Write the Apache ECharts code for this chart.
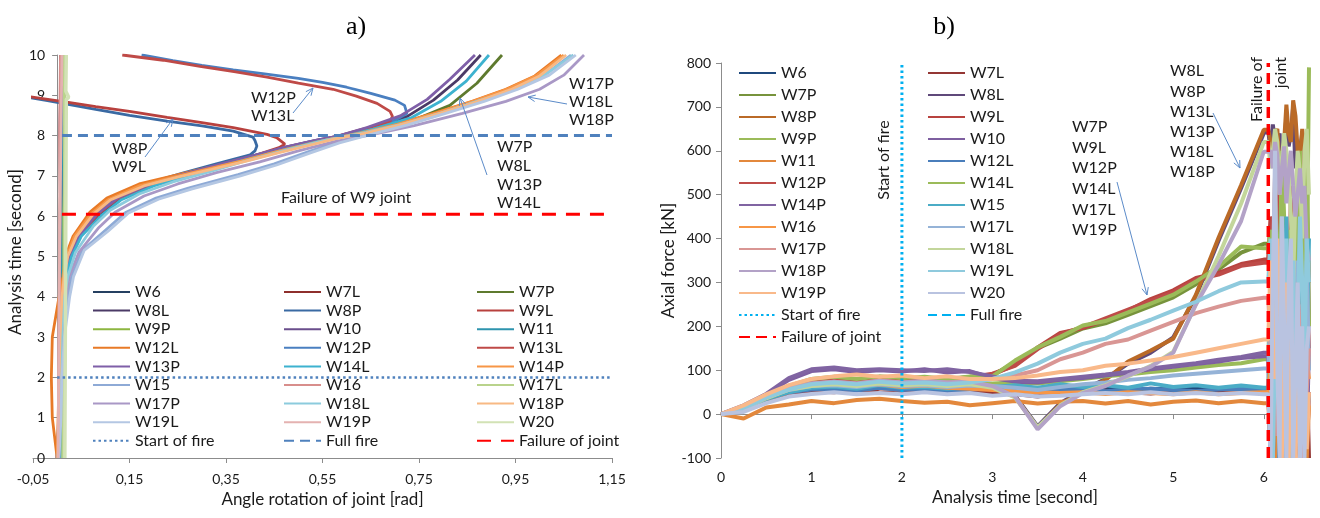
<!DOCTYPE html>
<html><head><meta charset="utf-8">
<script src="https://cdn.jsdelivr.net/npm/echarts@6/dist/echarts.min.js"></script>
<style>html,body{margin:0;padding:0;background:#fff}#c{width:1320px;height:518px}</style>
</head><body><div id="c"></div>
<script>
// ---------------- DATA ----------------
const NAMES_LEFT = ['W6','W7L','W7P','W8L','W8P','W9L','W9P','W10','W11','W12L','W12P','W13L','W13P','W14L','W14P','W15','W16','W17L','W17P','W18L','W18P','W19L','W19P','W20'];
const NAMES_RIGHT = ['W6','W7L','W7P','W8L','W8P','W9L','W9P','W10','W11','W12L','W12P','W14L','W14P','W15','W16','W17L','W17P','W18L','W18P','W19L','W19P','W20'];
const X_TICKS_LEFT = [-0.05, 0.15, 0.35, 0.55, 0.75, 0.95, 1.15];

// Panel a): [angle rotation (rad), analysis time (s)]
const L_W6  = [[0.004,0],[0.006,2],[0.005,4],[0.007,6],[0.006,8],[0.008,10]];
const L_W7L = [[0.006,0],[0.007,2],[0.008,4],[0.006,6],[0.009,8],[0.007,10]];
const L_W9P = [[0.01,0],[0.011,1],[0.012,3],[0.012,5],[0.013,7],[0.012,9],[0.013,10]];
const L_W10 = [[0.005,0],[0.006,3],[0.007,6],[0.012,7.5],[0.006,8],[0.008,10]];
const L_W11 = [[0.008,0],[0.009,3],[0.008,6],[0.01,8],[0.009,10]];
const L_W16 = [[0.003,0],[0.004,3],[0.006,6],[0.005,8],[0.007,10]];
const L_W17L = [[0.012,0],[0.014,2],[0.015,5],[0.016,8],[0.015,10]];
const L_W19P = [[0.002,0],[0.004,4],[0.007,7],[0.009,9],[0.01,10]];
const L_W20 = [[0.016,0],[0.017,3],[0.018,6],[0.019,8.9],[0.024,8.95],[0.018,9.1],[0.019,10]];
const L_W12L = [[0,0],[-0.01,1],[-0.012,2],[-0.01,3],[0.004,4],[0.012,4.5],[0.017,5],[0.033,5.5],[0.068,6.1],[0.103,6.45],[0.17,6.8],[0.24,7.0],[0.31,7.2],[0.38,7.38],[0.45,7.58],[0.52,7.78],[0.57,7.93],[0.63,8.08],[0.70,8.28],[0.78,8.55],[0.86,8.85],[0.93,9.15],[0.99,9.48],[1.045,10]];
const L_W14P = [[0,0],[0.002,1],[0.004,2],[0.006,3],[0.008,4],[0.013,4.5],[0.02,5],[0.036,5.5],[0.07,6.05],[0.105,6.4],[0.172,6.76],[0.245,6.98],[0.315,7.18],[0.385,7.38],[0.455,7.6],[0.525,7.8],[0.575,7.94],[0.635,8.08],[0.705,8.28],[0.785,8.56],[0.865,8.86],[0.935,9.16],[0.995,9.5],[1.05,10]];
const L_W18P = [[0.002,0],[0.003,1],[0.004,2],[0.006,3],[0.01,4],[0.015,4.5],[0.022,5],[0.04,5.5],[0.075,6.05],[0.11,6.4],[0.18,6.75],[0.25,6.97],[0.32,7.16],[0.39,7.36],[0.46,7.58],[0.53,7.78],[0.58,7.93],[0.64,8.06],[0.71,8.26],[0.79,8.54],[0.87,8.84],[0.94,9.14],[1.0,9.48],[1.055,10]];
const L_W13P = [[0,0],[0.004,1],[0.005,2],[0.006,3],[0.01,4],[0.016,4.5],[0.026,5],[0.045,5.5],[0.082,6.05],[0.125,6.45],[0.195,6.8],[0.265,7.05],[0.335,7.28],[0.405,7.5],[0.475,7.72],[0.535,7.88],[0.58,7.98],[0.642,8.2],[0.711,8.49],[0.767,8.9],[0.814,9.4],[0.866,10]];
const L_W8L = [[0.001,0],[0.005,1],[0.006,2],[0.007,3],[0.011,4],[0.017,4.5],[0.028,5],[0.048,5.5],[0.085,6.02],[0.128,6.42],[0.198,6.78],[0.268,7.03],[0.338,7.26],[0.408,7.48],[0.478,7.7],[0.538,7.86],[0.585,7.97],[0.65,8.18],[0.725,8.47],[0.78,8.88],[0.83,9.38],[0.878,10]];
const L_W14L = [[0.002,0],[0.005,1],[0.006,2],[0.008,3],[0.012,4],[0.018,4.5],[0.03,5],[0.05,5.5],[0.09,6.0],[0.132,6.4],[0.2,6.75],[0.27,7.0],[0.34,7.24],[0.41,7.46],[0.48,7.68],[0.54,7.85],[0.59,7.96],[0.655,8.16],[0.735,8.45],[0.795,8.85],[0.848,9.35],[0.895,10]];
const L_W7P = [[0.002,0],[0.004,1],[0.006,2],[0.007,3],[0.011,4],[0.017,4.5],[0.027,5],[0.047,5.5],[0.086,6.05],[0.128,6.44],[0.198,6.8],[0.268,7.04],[0.338,7.27],[0.408,7.49],[0.478,7.71],[0.538,7.87],[0.585,7.96],[0.66,8.12],[0.711,8.25],[0.752,8.45],[0.814,8.75],[0.870,9.3],[0.922,10]];
const L_W8P = [[0,0],[0.003,1],[0.005,2],[0.006,3],[0.01,4],[0.015,4.5],[0.025,5],[0.044,5.5],[0.08,6.05],[0.122,6.46],[0.19,6.82],[0.26,7.07],[0.33,7.3],[0.40,7.52],[0.41,7.62],[0.414,7.74],[0.41,7.88],[0.406,7.96],[0.365,8.11],[0.30,8.24],[0.228,8.36],[0.15,8.5],[0.08,8.65],[0.02,8.78],[-0.02,8.87],[-0.06,8.95]];
const L_W9L = [[0.001,0],[0.004,1],[0.006,2],[0.007,3],[0.011,4],[0.016,4.5],[0.027,5],[0.046,5.5],[0.083,6.04],[0.126,6.44],[0.196,6.79],[0.266,7.04],[0.336,7.27],[0.406,7.49],[0.46,7.7],[0.472,7.79],[0.455,7.95],[0.435,8.03],[0.365,8.2],[0.30,8.32],[0.228,8.45],[0.15,8.6],[0.08,8.72],[0.02,8.83],[-0.03,8.92],[-0.06,8.97]];
const L_W12P = [[0,0],[0.004,1],[0.005,2],[0.006,3],[0.01,4],[0.016,4.5],[0.026,5],[0.045,5.5],[0.083,6.05],[0.126,6.45],[0.196,6.8],[0.266,7.05],[0.336,7.28],[0.406,7.5],[0.476,7.72],[0.536,7.88],[0.58,7.98],[0.65,8.2],[0.70,8.38],[0.725,8.55],[0.72,8.75],[0.70,8.88],[0.65,9.05],[0.60,9.2],[0.55,9.32],[0.50,9.42],[0.43,9.53],[0.365,9.63],[0.30,9.74],[0.24,9.86],[0.175,10]];
const L_W13L = [[0.001,0],[0.004,1],[0.005,2],[0.007,3],[0.011,4],[0.016,4.5],[0.027,5],[0.046,5.5],[0.084,6.05],[0.127,6.45],[0.197,6.8],[0.267,7.05],[0.337,7.28],[0.407,7.5],[0.477,7.72],[0.537,7.88],[0.58,7.98],[0.645,8.2],[0.69,8.35],[0.695,8.48],[0.69,8.6],[0.663,8.8],[0.62,8.98],[0.572,9.15],[0.50,9.3],[0.435,9.45],[0.37,9.58],[0.296,9.72],[0.22,9.87],[0.135,10]];
const L_W15 = [[0.003,0],[0.006,1],[0.008,2],[0.012,3],[0.022,4],[0.03,4.5],[0.052,5.15],[0.1,5.65],[0.143,6.1],[0.205,6.45],[0.272,6.7],[0.375,7.03],[0.45,7.3],[0.52,7.6],[0.58,7.84],[0.63,8.0],[0.72,8.28],[0.8,8.57],[0.88,8.87],[0.95,9.17],[1.01,9.5],[1.065,10]];
const L_W19L = [[0.004,0],[0.008,1],[0.01,2],[0.015,3],[0.026,4],[0.034,4.5],[0.056,5.15],[0.105,5.62],[0.148,6.08],[0.21,6.42],[0.28,6.68],[0.38,7.0],[0.455,7.27],[0.525,7.57],[0.585,7.82],[0.635,7.98],[0.725,8.26],[0.805,8.55],[0.885,8.85],[0.955,9.15],[1.02,9.5],[1.075,10]];
const L_W17P = [[0.003,0],[0.006,1],[0.008,2],[0.01,3],[0.018,4],[0.025,4.5],[0.045,5.1],[0.085,5.7],[0.12,6.1],[0.18,6.5],[0.25,6.8],[0.33,7.08],[0.42,7.35],[0.5,7.62],[0.575,7.85],[0.65,8.02],[0.74,8.25],[0.84,8.55],[0.93,8.85],[1.0,9.15],[1.05,9.5],[1.092,10]];
const L_W18L = [[0.002,0],[0.005,1],[0.007,2],[0.009,3],[0.015,4],[0.022,4.5],[0.038,5.1],[0.075,5.75],[0.11,6.15],[0.17,6.55],[0.24,6.85],[0.32,7.12],[0.40,7.4],[0.48,7.66],[0.555,7.88],[0.64,8.08],[0.72,8.3],[0.80,8.58],[0.87,8.85],[0.95,9.15],[1.01,9.5],[1.07,10]];
const L_START = [[0,2],[1.15,2]];
const L_FULL = [[0.01,8],[1.15,8]];
const L_FAIL = [[0.01,6.05],[1.14,6.05]];

// Panel b): analysis time (s) and axial force (kN)
const R_T = [0,0.25,0.5,0.75,1,1.25,1.5,1.75,2,2.25,2.5,2.75,3,3.25,3.5,3.75,4,4.25,4.5,4.75,5,5.25,5.5,5.75,6,
  6.05,6.075,6.1,6.125,6.15,6.175,6.2,6.225,6.25,6.275,6.3,6.325,6.35,6.375,6.4,6.425,6.45,6.475,6.5];
const R_W6  = [0,12,38,52,58,62,55,60,56,62,54,58,56,60,52,57,55,60,52,58,56,60,54,58,56, 56,-100,40,120,-100,60,-50,150,20,-100,80,200,-60,40,120,-100,60,10,40];
const R_W7L = [0,8,32,46,52,50,56,50,47,53,48,52,48,46,40,50,48,53,50,47,52,50,48,53,50, 50,110,-100,60,150,-80,20,200,-100,30,-100,100,60,-50,180,0,-100,100,-100];
const R_W7P = [0,15,42,62,75,80,76,82,78,82,80,84,88,118,150,172,195,207,226,246,266,296,330,368,388, 388,250,420,150,450,300,120,350,200,60,300,150,-40,250,100,300,50,200,100];
const R_W8L = [0,10,35,55,65,70,66,72,68,70,66,70,62,42,-28,25,55,80,115,140,175,268,395,515,640, 645,600,660,620,580,640,520,600,680,610,640,700,560,620,600,640,560,520,200];
const R_W8P = [0,8,30,50,60,64,60,66,62,66,60,64,58,40,-32,22,52,78,120,145,172,272,402,522,648, 648,620,580,640,650,560,540,620,705,640,620,715,680,600,580,650,600,480,300];
const R_W9L = [0,12,40,60,72,78,74,80,76,80,78,82,90,112,152,185,196,215,236,262,282,310,322,342,352, 352,450,250,550,400,200,480,300,400,100,520,500,300,200,150,400,100,-100,50];
const R_W9P = [0,12,38,55,65,68,65,70,68,70,65,68,70,72,70,75,80,86,90,96,100,106,112,116,125, 125,300,150,450,200,-50,250,150,300,400,50,450,400,150,500,600,500,300,790];
const R_W10 = [0,18,45,78,98,102,96,100,97,102,95,98,82,74,72,78,82,88,94,102,108,114,120,128,132, 132,-100,80,200,50,-50,150,100,-100,250,80,-100,50,200,-100,80,120,-50,50];
const R_W11 = [0,-10,15,22,30,25,32,35,30,26,28,20,25,30,24,28,30,24,30,22,28,31,25,30,25, 25,-60,100,-100,40,60,-20,150,-100,30,60,-100,100,20,-80,60,20,-100,20];
const R_W12L = [0,8,34,50,56,58,54,60,55,58,52,56,58,55,50,56,58,52,56,58,55,52,56,58,55, 55,60,-100,30,100,150,-100,40,80,-50,120,-100,40,90,-100,50,120,0,40];
const R_W12P = [0,14,42,62,76,80,76,82,80,83,80,84,92,110,148,182,198,218,238,258,278,306,318,338,345, 345,400,450,150,300,550,250,400,350,150,50,300,400,250,200,450,600,300,150];
const R_W14L = [0,15,44,64,80,85,80,86,82,85,80,86,86,122,152,176,202,212,232,252,272,302,336,382,378, 378,420,250,500,350,300,600,450,150,420,300,100,380,500,300,200,450,600,200];
const R_W14P = [0,20,46,82,102,106,100,102,100,98,102,96,86,76,75,80,85,90,96,104,110,116,124,130,140, 140,50,-100,200,100,150,-100,80,50,300,100,-100,150,50,-100,100,150,-50,150];
const R_W15 = [0,10,35,50,60,63,58,66,60,62,58,61,62,66,60,68,62,66,60,70,62,66,60,65,60, 60,200,-100,50,300,-100,80,200,450,-100,300,100,-50,250,400,50,300,150,400];
const R_W16 = [0,10,40,56,66,70,64,68,62,65,60,58,55,52,50,48,50,46,50,48,45,50,45,48,50, 50,120,-100,40,200,100,-100,60,150,-100,30,100,-100,50,80,-100,30,120,80];
const R_W17L = [0,12,38,55,64,66,62,68,64,66,62,65,64,60,55,62,68,72,78,82,88,92,96,100,104, 104,250,-100,300,150,100,400,-100,150,300,-100,200,350,100,-100,250,100,350,100];
const R_W17P = [0,14,40,58,70,74,70,76,72,75,72,75,80,88,100,125,140,160,170,190,210,230,245,258,265, 265,150,320,250,-50,200,350,100,300,-100,250,150,50,300,150,-100,200,50,150];
const R_W18L = [0,12,36,56,64,68,64,70,66,68,64,68,60,38,-30,20,50,66,86,110,142,250,360,480,620, 620,560,600,650,620,500,580,640,600,560,450,300,500,600,550,400,600,650,500];
const R_W18P = [0,14,38,58,70,74,70,76,72,76,72,74,64,40,-35,18,48,64,88,108,140,250,340,440,598, 598,600,560,620,590,500,560,610,480,550,600,520,450,500,560,480,520,380,350];
const R_W19L = [0,12,38,56,68,72,68,74,70,72,68,72,80,95,115,140,160,172,196,215,236,256,280,300,302, 302,400,-100,150,350,100,450,200,400,-100,250,350,50,200,450,300,100,400,300];
const R_W19P = [0,20,45,66,80,86,90,85,88,82,86,80,80,82,88,96,100,110,115,122,130,140,150,160,170, 170,350,200,80,400,250,-100,150,300,-100,200,100,-100,150,-80,100,50,-80,50];
const R_W20 = [0,5,25,40,46,50,45,48,45,50,45,48,42,45,40,42,45,48,45,50,45,48,45,48,45, 45,-100,300,600,100,-100,450,200,-100,300,400,-100,100,300,-100,200,-100,150,200];
const R_START = [[2,-100],[2,800]];
const R_FULL = [[8,-100],[8,800]];
const R_FAIL = [[6.05,-100],[6.05,800]];

const LEFT_DATA = {W6:L_W6,W7L:L_W7L,W7P:L_W7P,W8L:L_W8L,W8P:L_W8P,W9L:L_W9L,W9P:L_W9P,W10:L_W10,W11:L_W11,W12L:L_W12L,W12P:L_W12P,W13L:L_W13L,W13P:L_W13P,W14L:L_W14L,W14P:L_W14P,W15:L_W15,W16:L_W16,W17L:L_W17L,W17P:L_W17P,W18L:L_W18L,W18P:L_W18P,W19L:L_W19L,W19P:L_W19P,W20:L_W20};
const RIGHT_DATA = {W6:R_W6,W7L:R_W7L,W7P:R_W7P,W8L:R_W8L,W8P:R_W8P,W9L:R_W9L,W9P:R_W9P,W10:R_W10,W11:R_W11,W12L:R_W12L,W12P:R_W12P,W14L:R_W14L,W14P:R_W14P,W15:R_W15,W16:R_W16,W17L:R_W17L,W17P:R_W17P,W18L:R_W18L,W18P:R_W18P,W19L:R_W19L,W19P:R_W19P,W20:R_W20};

// ---------------- STYLES ----------------
const LEFT_COLORS = {W6:'#254061',W7L:'#8E2F2C',W7P:'#5E7A2E',W8L:'#4B3A66',W8P:'#3A6AA3',W9L:'#B8413E',W9P:'#8DB640',W10:'#6A4E8C',W11:'#2E94AE',W12L:'#E87A26',W12P:'#4A7FC0',W13L:'#BF4A47',W13P:'#7F5FA8',W14L:'#3DB2CF',W14P:'#F79646',W15:'#8EAAD6',W16:'#D88E8C',W17L:'#B9D38C',W17P:'#A998C6',W18L:'#8CCBDD',W18P:'#F8B984',W19L:'#B4C7E3',W19P:'#E4B2B1',W20:'#D2E2B5'};
const RIGHT_COLORS = {W6:'#1F497D',W7L:'#943634',W7P:'#77933C',W8L:'#5F497A',W8P:'#BA6A27',W9L:'#B8433F',W9P:'#9BBB59',W10:'#7E5FA0',W11:'#E3883C',W12L:'#4A7EBB',W12P:'#BE4B48',W14L:'#9BBB59',W14P:'#8064A2',W15:'#4BACC6',W16:'#F79646',W17L:'#95B3D7',W17P:'#D99694',W18L:'#C3D69B',W18P:'#B3A2C7',W19L:'#8FCADD',W19P:'#F9B98A',W20:'#B9C3E0'};
const FONT = 'Lato, "Open Sans", sans-serif';
const TXT = '#1a1a1a';
const AXC = '#8c8c8c';
const RS = ' '; // suffix making right-panel legend names distinct
const LEFT_GRID = {left:33, top:55, width:579, height:403};
const LEFT_X_MIN = -0.05, LEFT_X_MAX = 1.15;

const series = [];
NAMES_LEFT.forEach(n => series.push({
  type:'line', name:n, xAxisIndex:0, yAxisIndex:0, data:LEFT_DATA[n],
  symbol:'none', showSymbol:false, silent:true, animation:false,
  lineStyle:{color:LEFT_COLORS[n], width:(n==='W20'||n==='W17L')?3.5:2.8}, itemStyle:{color:LEFT_COLORS[n]}
}));
series.push({type:'line', name:'Start of fire', xAxisIndex:0, yAxisIndex:0, data:L_START, symbol:'none', silent:true, animation:false, lineStyle:{color:'#4F81BD', width:2.5, type:[2.5,3]}, itemStyle:{color:'#4F81BD'}});
series.push({type:'line', name:'Full fire', xAxisIndex:0, yAxisIndex:0, data:L_FULL, symbol:'none', silent:true, animation:false, lineStyle:{color:'#4F81BD', width:3, type:[10,6]}, itemStyle:{color:'#4F81BD'}});
series.push({type:'line', name:'Failure of joint', xAxisIndex:0, yAxisIndex:0, data:L_FAIL, symbol:'none', silent:true, animation:false, lineStyle:{color:'#FF0000', width:3, type:[14,10]}, itemStyle:{color:'#FF0000'}});

NAMES_RIGHT.forEach(n => {
  const vals = RIGHT_DATA[n];
  series.push({
    type:'line', name:n+RS, xAxisIndex:1, yAxisIndex:1,
    data:R_T.map((t,i)=>[t, vals[i]]),
    symbol:'none', showSymbol:false, silent:true, animation:false,
    lineStyle:{color:RIGHT_COLORS[n], width:4}, itemStyle:{color:RIGHT_COLORS[n]}
  });
});
series.push({type:'line', name:'Start of fire'+RS, xAxisIndex:1, yAxisIndex:1, data:R_START, symbol:'none', silent:true, animation:false, lineStyle:{color:'#00B0F0', width:3, type:[2.5,3]}, itemStyle:{color:'#00B0F0'}});
series.push({type:'line', name:'Full fire'+RS, xAxisIndex:1, yAxisIndex:1, data:R_FULL, symbol:'none', silent:true, animation:false, lineStyle:{color:'#00B0F0', width:3, type:[9,5]}, itemStyle:{color:'#00B0F0'}});
series.push({type:'line', name:'Failure of joint'+RS, xAxisIndex:1, yAxisIndex:1, data:R_FAIL, symbol:'none', silent:true, animation:false, lineStyle:{color:'#FF0000', width:3.5, type:[11,6]}, itemStyle:{color:'#FF0000'}});

function legendCol(names, left, top, gap){
  return {data:names, left:left, top:top, orient:'vertical', itemGap:gap, itemWidth:37, itemHeight:10,
    padding:0, selectedMode:false, formatter:n=>n.trim(),
    itemStyle:{color:'rgba(0,0,0,0)', borderColor:'rgba(0,0,0,0)', borderWidth:0},
    textStyle:{fontFamily:FONT, fontSize:16, color:TXT, lineHeight:16}};
}
const LEG_L1 = ['W6','W8L','W9P','W12L','W13P','W15','W17P','W19L','Start of fire'];
const LEG_L2 = ['W7L','W8P','W10','W12P','W14L','W16','W18L','W19P','Full fire'];
const LEG_L3 = ['W7P','W9L','W11','W13L','W14P','W17L','W18P','W20','Failure of joint'];
const LEG_R1 = ['W6','W7P','W8P','W9P','W11','W12P','W14P','W16','W17P','W18P','W19P','Start of fire','Failure of joint'].map(n=>n+RS);
const LEG_R2 = ['W7L','W8L','W9L','W10','W12L','W14L','W15','W17L','W18L','W19L','W20','Full fire'].map(n=>n+RS);

function txt(x,y,s,size,align,rot){
  const g = {type:'text', x:x, y:y, silent:true, z:100,
    style:{text:s, fill:TXT, font:size+'px '+FONT, textAlign:align||'left', textVerticalAlign:'middle'}};
  if (rot) g.rotation = rot;
  return g;
}
function arrow(x1,y1,x2,y2){
  const a = Math.atan2(y2-y1, x2-x1), L = 8, w = 0.42, c = '#5B8BC9';
  return [
    {type:'line', silent:true, z:100, shape:{x1:x1,y1:y1,x2:x2,y2:y2}, style:{stroke:c, lineWidth:1}},
    {type:'polyline', silent:true, z:100, shape:{points:[[x2-L*Math.cos(a-w), y2-L*Math.sin(a-w)],[x2,y2],[x2-L*Math.cos(a+w), y2-L*Math.sin(a+w)]]}, style:{stroke:c, fill:null, lineWidth:1}}
  ];
}
const graphics = [
  {type:'text', x:356, y:27, silent:true, style:{text:'a)', fill:'#000', font:'26px "Liberation Serif", serif', textAlign:'center', textVerticalAlign:'middle'}},
  {type:'text', x:944, y:27, silent:true, style:{text:'b)', fill:'#000', font:'26px "Liberation Serif", serif', textAlign:'center', textVerticalAlign:'middle'}},
  txt(16,252,'Analysis time [second]',17,'center',Math.PI/2),
  txt(281,198,'Failure of W9 joint',16),
  txt(251,98,'W12P',16), txt(251,116,'W13L',16),
  txt(112,149,'W8P',16), txt(112,167,'W9L',16),
  txt(497,147,'W7P',16), txt(497,166,'W8L',16), txt(497,185,'W13P',16), txt(497,203,'W14L',16),
  txt(569,84,'W17P',16), txt(569,102,'W18L',16), txt(569,120,'W18P',16),
  ...arrow(293,113,313,88), ...arrow(145,157,173,119), ...arrow(487,175,460,98), ...arrow(567,104,528,97),
  txt(884,160,'Start of fire',16,'center',Math.PI/2),
  txt(1257,57,'Failure of',16,'right',Math.PI/2),
  txt(1281,57,'joint',16,'right',Math.PI/2),
  txt(1072,127,'W7P',16), txt(1072,148,'W9L',16), txt(1072,168,'W12P',16), txt(1072,189,'W14L',16), txt(1072,210,'W17L',16), txt(1072,230,'W19P',16),
  txt(1170,71,'W8L',16), txt(1170,92,'W8P',16), txt(1170,112,'W13L',16), txt(1170,132,'W13P',16), txt(1170,152,'W18L',16), txt(1170,172,'W18P',16),
  ...arrow(1117,182,1147,295), ...arrow(1213,113,1240,168)
];

const labelStyle = {color:TXT, fontFamily:FONT, fontSize:14};
const nameStyle = {color:TXT, fontFamily:FONT, fontSize:17};
// vertical axis of panel a) crosses the horizontal axis at angle 0
const LEFT_Y_OFFSET = -(0 - LEFT_X_MIN) / (LEFT_X_MAX - LEFT_X_MIN) * LEFT_GRID.width;

const option = {
  backgroundColor:'#fff',
  animation:false,
  grid:[
    LEFT_GRID,
    {left:721, top:63, width:588, height:395}
  ],
  xAxis:[
    {gridIndex:0, type:'value', min:LEFT_X_MIN, max:LEFT_X_MAX, interval:0.2,
     axisLine:{show:true, onZero:false, lineStyle:{color:AXC}}, axisTick:{show:true, length:5, lineStyle:{color:AXC}},
     splitLine:{show:false},
     axisLabel:Object.assign({margin:14, formatter:v=>{ const r = X_TICKS_LEFT.reduce((b,t)=>Math.abs(t-v)<Math.abs(b-v)?t:b, X_TICKS_LEFT[0]); return r.toFixed(2).replace('.',','); }}, labelStyle),
     name:'Angle rotation of joint [rad]', nameLocation:'middle', nameGap:33, nameMoveOverlap:false, nameTextStyle:nameStyle},
    {gridIndex:1, type:'value', min:0, max:6.5, interval:1, position:'bottom',
     axisLine:{show:false, onZero:false}, axisTick:{show:false}, splitLine:{show:false},
     axisLabel:Object.assign({margin:12, showMaxLabel:false, formatter:v=>(Math.abs(v-Math.round(v))<1e-6?String(Math.round(v)):'')}, labelStyle),
     name:'Analysis time [second]', nameLocation:'middle', nameGap:31, nameMoveOverlap:false, nameTextStyle:nameStyle},
    {gridIndex:1, type:'value', min:0, max:6.5, interval:1, position:'top',
     axisLine:{show:true, onZero:true, lineStyle:{color:AXC}}, axisTick:{show:true, inside:true, length:5, lineStyle:{color:AXC}},
     axisLabel:{show:false}, splitLine:{show:false}}
  ],
  yAxis:[
    {gridIndex:0, type:'value', min:0, max:10, interval:1, position:'left', offset:LEFT_Y_OFFSET,
     axisLine:{show:true, onZero:false, lineStyle:{color:AXC}}, axisTick:{show:true, length:5, lineStyle:{color:AXC}},
     splitLine:{show:false}, axisLabel:Object.assign({margin:12}, labelStyle)},
    {gridIndex:1, type:'value', min:-100, max:800, interval:100,
     axisLine:{show:true, onZero:false, lineStyle:{color:AXC}}, axisTick:{show:true, length:5, lineStyle:{color:AXC}},
     splitLine:{show:false}, axisLabel:Object.assign({margin:10}, labelStyle),
     name:'Axial force [kN]', nameLocation:'middle', nameGap:44, nameMoveOverlap:false, nameTextStyle:nameStyle}
  ],
  legend:[
    legendCol(LEG_L1, 92, 284, 2.6),
    legendCol(LEG_L2, 283, 284, 2.6),
    legendCol(LEG_L3, 476, 284, 2.6),
    legendCol(LEG_R1, 738, 65, 6),
    legendCol(LEG_R2, 927, 65, 6)
  ],
  graphic:graphics,
  series:series
};
const chart = echarts.init(document.getElementById('c'), null, {renderer:'canvas'});
chart.setOption(option);
</script>
</body></html>
